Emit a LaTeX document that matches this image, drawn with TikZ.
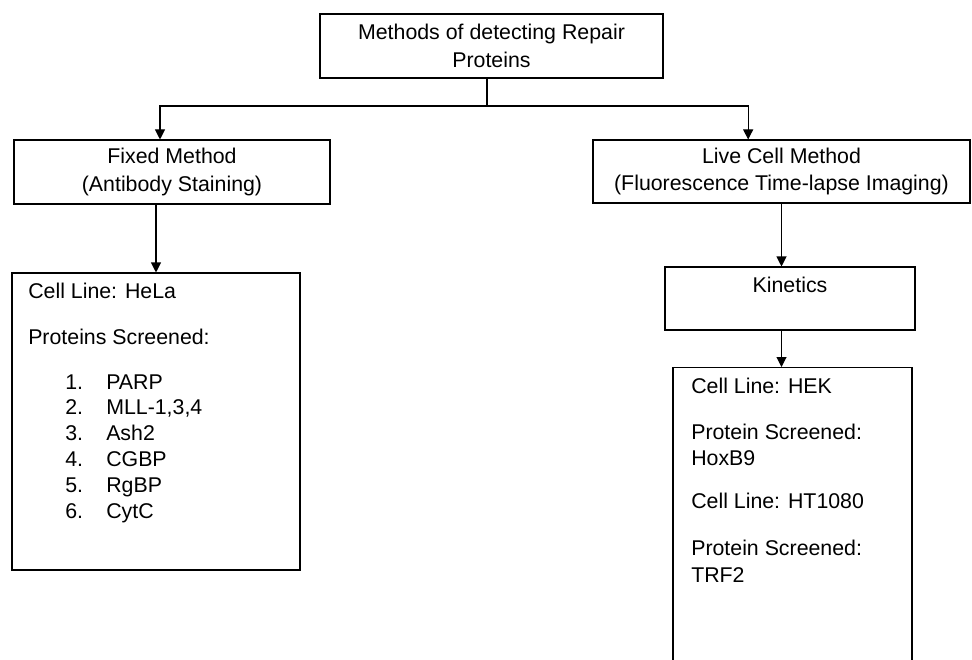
\documentclass[tikz,border=0pt]{standalone}
\usepackage{fontspec}
\setmainfont{Liberation Sans}
\usetikzlibrary{arrows.meta,positioning}
\begin{document}
\begin{tikzpicture}[x=0.75pt,y=-0.75pt]
    % Style definition for the boxes and texts
    \tikzset{box/.style={rectangle, draw=black, line width=0.8pt, inner sep=0pt,
             align=center, font=\fontsize{16}{20.5}\selectfont}}
    \tikzset{txt/.style={inner sep=0pt, font=\fontsize{16}{20.5}\selectfont}}
    \tikzstyle{arrow} = [line width=0.8pt,-{Triangle[length=7.5pt,width=7.5pt]}]

    \useasboundingbox (0,0) rectangle (972,660);
    \clip (0,0) rectangle (972,660);

    % Main boxes
    \node (root) [box, minimum width=257.25pt, minimum height=48pt] at (491.5,46) {Methods of detecting Repair\\Proteins};
    \node (fixed) [box, minimum width=237pt, minimum height=48pt] at (172,172) {Fixed Method\\(Antibody Staining)};
    \node (live) [box, minimum width=282.75pt, minimum height=47.25pt] at (781.5,171.5) {Live Cell Method\\(Fluorescence Time-lapse Imaging)};
    \node (kinetics) [box, minimum width=187.5pt, minimum height=47.25pt] at (790,298.5) {};
    \node (hela) [box, minimum width=216pt, minimum height=222.75pt] at (156,421.5) {};
    \node (hek) [box, anchor=north, minimum width=179.25pt, minimum height=270pt] at (792.5,367) {};

    % Kinetics label
    \node (kintext) [txt, anchor=base] at (790,292) {Kinetics};

    % Fixed method results
    \node (hela1) [txt, anchor=base west] at (28,298) {Cell Line: HeLa};
    \node (hela2) [txt, anchor=base west] at (28,344) {Proteins Screened:};
    \foreach \p [count=\i] in {PARP, {MLL-1,3,4}, Ash2, CGBP, RgBP, CytC} {
        \node (num\i) [txt, anchor=base west] at (65,{389+25.8*(\i-1)}) {\i.};
        \node (prot\i) [txt, anchor=base west] at (106,{389+25.8*(\i-1)}) {\p};
    }

    % Live cell results
    \node (hek1) [txt, anchor=base west] at (691,393) {Cell Line: HEK};
    \node (hek2) [txt, anchor=base west] at (691,439) {Protein Screened:};
    \node (hek3) [txt, anchor=base west] at (691,465) {HoxB9};
    \node (hek4) [txt, anchor=base west] at (691,508) {Cell Line: HT1080};
    \node (hek5) [txt, anchor=base west] at (691,555) {Protein Screened:};
    \node (hek6) [txt, anchor=base west] at (691,582) {TRF2};

    % Arrows connecting the boxes
    \coordinate (split) at (487,106);
    \draw [line width=0.8pt] (root.south -| split) -- (split);
    \draw [arrow] (split) -| ([xshift=-9pt]fixed.north);
    \draw [arrow] (split) -| ([xshift=-25pt]live.north);
    \draw [arrow] (fixed.south -| hela.north) -- (hela.north);
    \draw [arrow] (live.south) -- (live.south |- kinetics.north);
    \draw [arrow] (kinetics.south -| live.south) -- (live.south |- hek.north);
\end{tikzpicture}
\end{document}
